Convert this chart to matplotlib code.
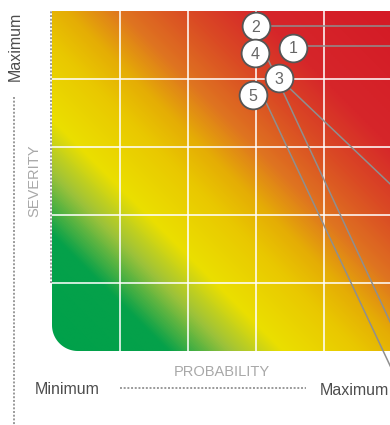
import numpy as np
import matplotlib
matplotlib.use('Agg')
import matplotlib.pyplot as plt
from matplotlib.colors import LinearSegmentedColormap
from matplotlib.path import Path
from matplotlib.patches import PathPatch

plt.rcParams['font.family'] = ['Liberation Sans', 'DejaVu Sans']

# matrice de risque 5x5 (probabilite x severite)
n_cells = 5
risk_ids = ['1', '2', '3', '4', '5']
probability = [3.54, 3.00, 3.34, 2.99, 2.96]
severity = [4.46, 4.78, 4.01, 4.38, 3.76]

# lignes de rappel vers les etiquettes (coupees a droite)
leader_start_x = [3.54, 3.00, 3.34, 3.18, 3.15]
leader_start_y = [4.49, 4.78, 4.01, 4.28, 3.65]
leader_end_x = [5.2, 5.2, 5.2, 5.2, 5.2]
leader_end_y = [4.49, 4.78, 2.24, -0.06, -0.70]

# degrade vert -> jaune -> rouge le long de la diagonale
grad_stops = [0.0, 0.17, 0.26, 0.34, 0.45, 0.52, 0.60, 0.70, 0.80, 1.0]
grad_colors = ['#00a14b', '#05a14a', '#9cc23a', '#ebdf00', '#e9c800', '#e5ad05',
               '#df7420', '#da4a24', '#d6262a', '#d41a26']
cmap = LinearSegmentedColormap.from_list('risk', list(zip(grad_stops, grad_colors)))

fig = plt.figure(figsize=(3.9, 4.25), dpi=100)

# axe de fond en pixels pour les textes et pointilles
bg = fig.add_axes([0, 0, 1, 1], zorder=0)
bg.set_xlim(0, 390)
bg.set_ylim(425, 0)
bg.axis('off')

ax = fig.add_axes([52 / 390, 74 / 425, 340 / 390, 340 / 425], zorder=1)
ax.set_xlim(0, n_cells)
ax.set_ylim(0, n_cells)
ax.axis('off')

xs = np.linspace(0, n_cells, 500)
X, Y = np.meshgrid(xs, xs)
S = (X + Y) / (2 * n_cells)
im = ax.imshow(S, extent=(0, n_cells, 0, n_cells), origin='lower', cmap=cmap,
               vmin=0, vmax=1, interpolation='bilinear', aspect='auto', zorder=1)

# coin inferieur gauche arrondi
r = 0.38
theta = np.linspace(np.pi, 1.5 * np.pi, 30)
arc = np.column_stack([r + r * np.cos(theta), r + r * np.sin(theta)])
verts = np.vstack([[[r, 0], [n_cells, 0], [n_cells, n_cells], [0, n_cells], [0, r]], arc])
clip = PathPatch(Path(verts, closed=False), transform=ax.transData,
                 facecolor='none', edgecolor='none')
ax.add_patch(clip)
im.set_clip_path(clip)

for k in range(1, n_cells):
    ax.axvline(k, color='white', alpha=0.8, lw=1.4, zorder=2)
    ax.axhline(k, color='white', alpha=0.8, lw=1.4, zorder=2)

dots = (0, (1, 0.9))
ax.plot([-0.015, -0.015], [1, n_cells], ls=dots, lw=1.4, color='#9a9a9a',
        clip_on=False, zorder=3)

for sx, sy, ex, ey in zip(leader_start_x, leader_start_y, leader_end_x, leader_end_y):
    ax.plot([sx, ex], [sy, ey], color='#8f8f8f', lw=1.1, zorder=3, clip_on=False)

ax.scatter(probability, severity, s=400, facecolor='white', edgecolor='#555555',
           linewidths=1.3, zorder=4, clip_on=False)
for rid, px, py in zip(risk_ids, probability, severity):
    ax.annotate(rid, (px, py), xytext=(0, -4.1), textcoords='offset points',
                ha='center', va='baseline', fontsize=11.5, color='#666666', zorder=5)

# axes et libelles
bg.plot([14, 14], [97, 430], ls=dots, lw=1.4, color='#9a9a9a')
bg.plot([120, 306], [388, 388], ls=dots, lw=1.4, color='#9a9a9a')

bg.text(15, 46, 'Maximum', rotation=90, ha='center', va='center',
        fontsize=11.5, color='#4d4d4d')
bg.text(34, 181, 'SEVERITY', rotation=90, ha='center', va='center',
        fontsize=10.5, color='#a8a8a8')
bg.text(222, 376, 'PROBABILITY', ha='center', va='baseline',
        fontsize=10.5, color='#a8a8a8')
bg.text(67, 394, 'Minimum', ha='center', va='baseline',
        fontsize=11.5, color='#4d4d4d')
bg.text(320, 395, 'Maximum', ha='left', va='baseline',
        fontsize=11.5, color='#4d4d4d')

fig.savefig('out.png', dpi=100)
